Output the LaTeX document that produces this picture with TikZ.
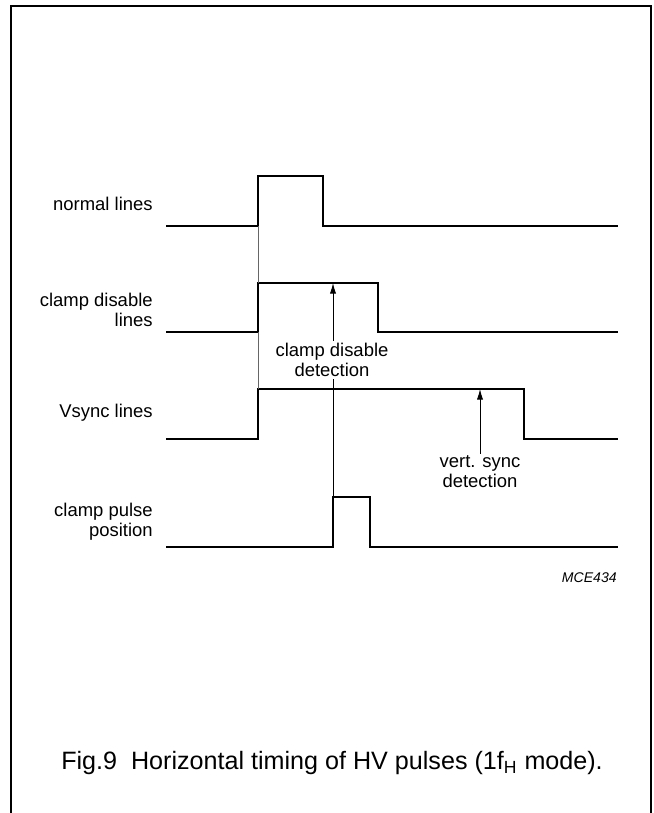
\documentclass[tikz,border=0pt]{standalone}
\usepackage{fontspec}
\setmainfont{Liberation Sans}
\usetikzlibrary{arrows.meta}

\begin{document}
\begin{tikzpicture}[
x=0.02cm,y=-0.02cm,
signal/.style={line width=1.5pt,line join=miter},
guide/.style={line width=0.4pt,black!60},
pointer/.style={line width=0.5pt,-{Latex[length=6pt,width=3.5pt]}},
lbl/.style={anchor=east,align=right,inner sep=0pt,font=\fontsize{10.5}{11.4}\selectfont},
note/.style={align=center,inner sep=1pt,font=\fontsize{10.5}{11.4}\selectfont},
]
\useasboundingbox (0,0) rectangle (653,813);
% frame, open at the bottom
\draw[line width=1.1pt] (11,813) -- (11,6) -- (651,6) -- (651,813);

% signal names
\node[lbl] (normal) at (153,204) {normal lines};
\node[lbl] (disable) at (153,310) {clamp disable\\lines};
\node[lbl] (vsync) at (153,413) {Vsync lines};
\node[lbl] (pulse) at (153,522) {clamp pulse\\position};

% waveforms
\draw[signal] (166,226) -- (258,226) coordinate (nlRise) -- (258,176) -- (323,176) -- (323,226) -- (618,226);
\draw[signal] (166,332) -- (258,332) coordinate (cdRise) -- (258,283) coordinate (cdTop) -- (378,283) -- (378,332) -- (618,332);
\draw[signal] (166,439) -- (258,439) -- (258,389) coordinate (vsTop) -- (524,389) -- (524,439) -- (618,439);
\draw[signal] (166,547) -- (333,547) -- (333,497) coordinate (cpTop) -- (370,497) -- (370,547) -- (618,547);

% edge guides
\draw[guide] (nlRise) -- (cdTop);
\draw[guide] (cdRise) -- (vsTop);

% detection points
\coordinate (cdDet) at (333,283);
\coordinate (vsDet) at (480,389);
\draw[pointer] (cpTop) -- (cdDet);
\node[note,fill=white] (cdNote) at (332,360) {clamp disable\\detection};
\node[note] (vsNote) at (480,472) {vert. sync\\detection};
\draw[pointer] (vsNote.north) -- (vsDet);

\node[anchor=east,inner sep=0pt,font=\fontsize{8}{9}\selectfont\itshape] (code) at (617,578) {MCE434};
\node[font=\fontsize{14.3}{16}\selectfont] (caption) at (332,763) {Fig.9\ \ Horizontal timing of HV pulses (1f\textsubscript{H} mode).};
\end{tikzpicture}
\end{document}
